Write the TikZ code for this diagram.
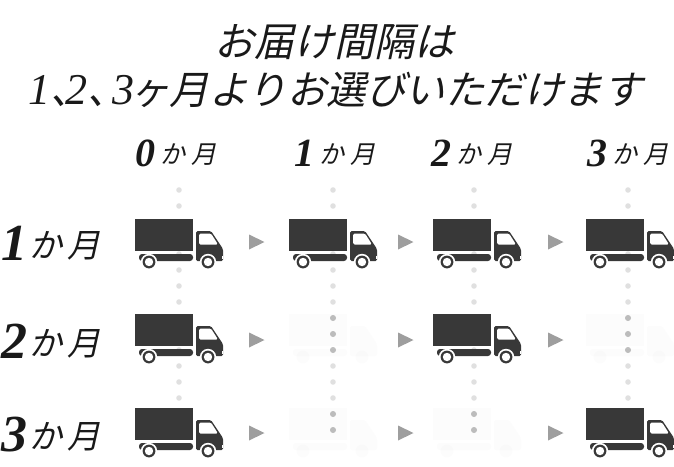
\documentclass[tikz,border=0pt]{standalone}
\usepackage{fontspec}
\newfontfamily\jpfont[FakeSlant=0.22]{Noto Sans CJK JP}
\newfontfamily\numfont{Liberation Serif}[ItalicFont=* Italic,BoldItalicFont=* Bold Italic]
\definecolor{truckgray}{HTML}{383838}
\newcommand{\titlenum}[1]{{\numfont\itshape\fontsize{44}{44}\selectfont #1}}
\newcommand{\headlabel}[1]{{\numfont\bfseries\itshape\fontsize{40}{40}\selectfont #1}\kern5pt\raisebox{3pt}{か\kern6pt月}}
\newcommand{\sidelabel}[1]{{\numfont\bfseries\itshape\fontsize{52}{52}\selectfont #1}\kern2pt\raisebox{3pt}{か\kern5pt月}}
\begin{document}
\begin{tikzpicture}[x=1pt,y=-1pt,
    title/.style={inner sep=0pt,text=black!90,font=\jpfont\fontsize{40}{40}\selectfont},
    titleb/.style={title,anchor=west,font=\jpfont\fontsize{39.5}{40}\selectfont},
    head/.style={inner sep=0pt,anchor=west,text=black!90,font=\jpfont\fontsize{25}{25}\selectfont},
    side/.style={inner sep=0pt,anchor=west,text=black!90,font=\jpfont\fontsize{33}{33}\selectfont},
    dot/.style={fill=black!12},
    darkdot/.style={fill=black!25},
    tip/.style={fill=black!38},
    truck/.pic={
        \fill[truckgray] (0,0) rectangle (58,32);
        \fill[truckgray,rounded corners=3pt] (4,35) -- (58,35) -- (58,42) -- (4,42) -- cycle;
        \fill[truckgray,rounded corners=1.5pt] (61,12) -- (76,12) -- (88,30) -- (88,42) -- (61,42) -- cycle;
        \fill[white,rounded corners=1.5pt] (64,14.5) -- (76,14.5) -- (83,25.5) -- (64,25.5) -- cycle;
        \fill[white] (86.5,36.5) rectangle (88,40);
        \foreach \wx in {14,73} {
            \fill[white] (\wx,43) circle (8.2);
            \fill[truckgray] (\wx,43) circle (6.4);
            \fill[white] (\wx,43) circle (4.2);
        }
    }]

    \useasboundingbox (0,0) rectangle (674,466);

    % dots behind the trucks
    \foreach \cx in {179,333,474,628}
        \foreach \cy in {190,206,...,430}
            \fill[dot] (\cx,\cy) circle (2.8);
    \foreach \cx in {333,628}
        \foreach \cy in {318,334,350}
            \fill[darkdot] (\cx,\cy) circle (3);
    \foreach \cx in {333,474,628}
        \foreach \cy in {414,430}
            \fill[darkdot] (\cx,\cy) circle (3);

    \node[title] (line1) at (334,42) {お届け間隔は};
    \node[titleb] (line2) at (28,90) {\titlenum{1}、\kern-24pt\titlenum{2}、\kern-15pt\titlenum{3}\kern-4ptヶ月よりお選びいただけます};

    \node[head] (m0) at (135,153) {\headlabel{0}};
    \node[head] (m1) at (294,153) {\headlabel{1}};
    \node[head] (m2) at (431,153) {\headlabel{2}};
    \node[head] (m3) at (587,153) {\headlabel{3}};

    \node[side] (r1) at (1,243) {\sidelabel{1}};
    \node[side] (r2) at (1,341) {\sidelabel{2}};
    \node[side] (r3) at (1,435) {\sidelabel{3}};

    \pic at (135,219) {truck};
    \pic at (289,219) {truck};
    \pic at (433,219) {truck};
    \pic at (586,219) {truck};

    \pic at (135,314) {truck};
    \pic[opacity=0.015] at (289,314) {truck};
    \pic at (433,314) {truck};
    \pic[opacity=0.015] at (586,314) {truck};

    \pic at (135,408) {truck};
    \pic[opacity=0.015] at (289,408) {truck};
    \pic[opacity=0.015] at (433,408) {truck};
    \pic at (586,408) {truck};

    % small triangles between the columns
    \foreach \ry in {242,340,433}
        \foreach \ax in {249,398,548}
            \fill[tip] (\ax,\ry-7.5) -- (\ax+15.5,\ry) -- (\ax,\ry+7.5) -- cycle;

\end{tikzpicture}
\end{document}
